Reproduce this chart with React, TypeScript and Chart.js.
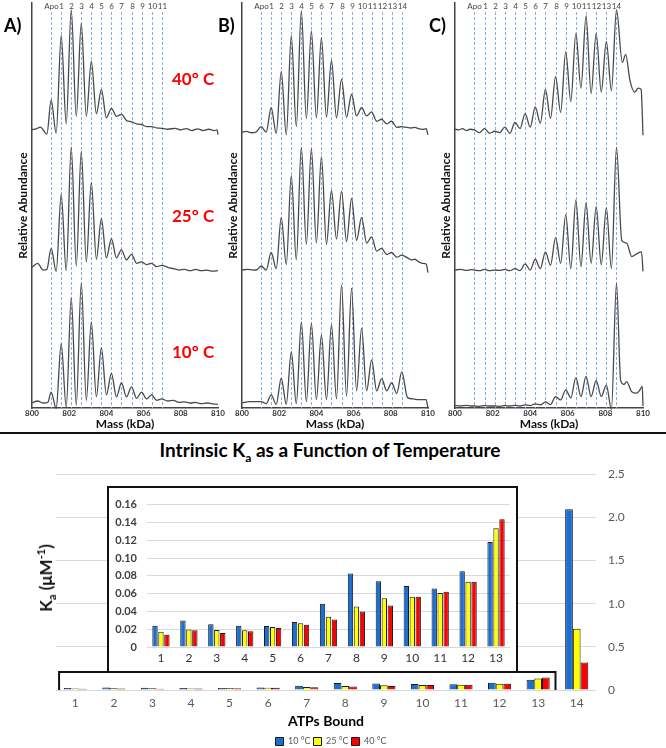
import React, { useEffect, useRef } from 'react';
import { Chart, registerables } from 'chart.js';

Chart.register(...registerables);

const FONT = 'Lato, "Liberation Sans", "DejaVu Sans", sans-serif';

// ---------- Bar chart data (intrinsic Ka, µM^-1) ----------
const atpLabels = ['1', '2', '3', '4', '5', '6', '7', '8', '9', '10', '11', '12', '13', '14'];
const tempLabels = ['10 °C', '25 °C', '40 °C'];
const ka10 = [0.0238, 0.0299, 0.0256, 0.0238, 0.0235, 0.028, 0.0487, 0.0825, 0.074, 0.0686, 0.0658, 0.085, 0.118, 2.095];
const ka25 = [0.017, 0.0196, 0.0192, 0.0188, 0.0224, 0.0267, 0.034, 0.0455, 0.0548, 0.0565, 0.0608, 0.0732, 0.1333, 0.71];
const ka40 = [0.0139, 0.0188, 0.0156, 0.0178, 0.0213, 0.0249, 0.031, 0.0398, 0.0466, 0.0565, 0.0622, 0.0732, 0.1436, 0.32];
const barColors = ['#1b6fd1', '#ffff00', '#ff0000'];

// ---------- Mass spectra ----------
const speciesLabels = ['Apo', '1', '2', '3', '4', '5', '6', '7', '8', '9', '10', '11', '12', '13', '14'];
const speciesMass = [801.03, 801.57, 802.11, 802.65, 803.19, 803.73, 804.27, 804.81, 805.35, 805.89, 806.43, 806.97, 807.51, 808.05, 808.59];
const panelTemps = ['40° C', '25° C', '10° C'];

// Panel A
const specA40 = {
  lead: [[800.0, 0.0], [800.25, 0.01], [800.45, 0.02], [800.8, -0.03]],
  peaks: [0.22, 0.7, 0.89, 0.79, 0.51, 0.3, 0.16, 0.115, 0.06, 0.04, 0.025, 0.012],
  valleys: [-0.025, 0.045, 0.1, 0.1, 0.12, 0.09, 0.1, 0.07, 0.045, 0.025, 0.015],
  tail: [[807.3, 0.005], [807.7, 0.012], [808.0, 0.0], [808.3, 0.01], [808.6, -0.005], [808.9, 0.008], [809.2, -0.005], [809.5, 0.005], [809.8, -0.005], [809.95, 0.0], [810.0, -0.035]],
};
const specA25 = {
  lead: [[800.0, 0.02], [800.3, 0.05], [800.6, 0.0], [800.8, 0.005]],
  peaks: [0.16, 0.56, 0.91, 0.88, 0.65, 0.38, 0.23, 0.15, 0.116, 0.06, 0.05, 0.035],
  valleys: [-0.01, -0.005, 0.03, 0.06, 0.08, 0.09, 0.09, 0.075, 0.05, 0.04, 0.025],
  tail: [[807.3, 0.02], [807.6, 0.01], [807.9, 0.0], [808.2, 0.005], [808.5, -0.005], [808.8, 0.005], [809.1, -0.005], [809.4, 0.0], [809.7, -0.008], [810.0, -0.005]],
};
const specA10 = {
  lead: [[800.0, 0.0], [800.3, 0.015], [800.6, 0.0], [800.85, 0.005]],
  peaks: [0.08, 0.44, 0.78, 0.89, 0.6, 0.41, 0.22, 0.15, 0.12, 0.08, 0.06, 0.03],
  valleys: [-0.04, -0.03, -0.015, 0.02, 0.045, 0.06, 0.045, 0.045, 0.035, 0.03, 0.02],
  tail: [[807.3, 0.015], [807.6, 0.02], [807.9, 0.005], [808.2, 0.008], [808.5, 0.0], [808.8, 0.004], [809.1, -0.004], [809.4, 0.0], [809.7, -0.006], [810.0, -0.01]],
};

// Panel B
const specB40 = {
  lead: [[800.0, 0.0], [800.25, 0.005], [800.5, -0.005], [800.75, 0.0]],
  peaks: [0.04, 0.18, 0.45, 0.715, 0.9, 0.75, 0.7, 0.53, 0.39, 0.28, 0.18, 0.15, 0.095, 0.08, 0.04],
  valleys: [0.0, -0.01, -0.02, 0.04, 0.1, 0.105, 0.11, 0.105, 0.11, 0.12, 0.12, 0.08, 0.06, 0.035],
  tail: [[808.85, 0.035], [809.1, 0.03], [809.3, 0.035], [809.5, 0.025], [809.7, 0.02], [809.9, 0.025], [810.0, -0.02]],
};
const specB25 = {
  lead: [[800.0, 0.0], [800.3, 0.005], [800.6, 0.0], [800.8, 0.002]],
  peaks: [0.03, 0.13, 0.39, 0.7, 0.91, 0.9, 0.84, 0.59, 0.585, 0.53, 0.39, 0.245, 0.16, 0.13, 0.11],
  valleys: [0.0, 0.01, 0.04, 0.075, 0.19, 0.2, 0.19, 0.23, 0.21, 0.22, 0.2, 0.14, 0.115, 0.095],
  tail: [[808.9, 0.09], [809.1, 0.075], [809.3, 0.08], [809.5, 0.06], [809.7, 0.05], [809.9, 0.045], [810.0, -0.02]],
};
const specB10 = {
  lead: [[800.0, 0.0], [800.4, 0.01], [800.8, 0.01]],
  peaks: [0.01, 0.06, 0.185, 0.38, 0.6, 0.59, 0.505, 0.58, 0.875, 0.85, 0.555, 0.32, 0.18, 0.15, 0.23],
  valleys: [-0.005, -0.01, -0.01, -0.005, 0.01, 0.025, 0.025, 0.03, 0.05, 0.09, 0.09, 0.09, 0.09, 0.07],
  tail: [[808.9, 0.04], [809.2, 0.03], [809.5, 0.025], [809.9, 0.025], [810.0, -0.04]],
};

// Panel C
const specC40 = {
  lead: [[800.0, 0.005], [800.2, 0.0], [800.4, 0.01], [800.6, -0.005], [800.8, 0.005]],
  peaks: [0.0, 0.01, -0.01, 0.02, 0.055, 0.12, 0.17, 0.3, 0.395, 0.58, 0.715, 0.845, 0.715, 0.655, 0.89],
  valleys: [-0.02, -0.025, -0.02, -0.025, 0.01, 0.02, 0.05, 0.085, 0.13, 0.21, 0.31, 0.27, 0.28, 0.29],
  tail: [[808.9, 0.5], [809.08, 0.56], [809.3, 0.37], [809.55, 0.28], [809.75, 0.31], [809.9, 0.3], [810.0, -0.04]],
};
const specC25 = {
  lead: [[800.0, 0.0], [800.3, 0.005], [800.6, -0.003], [800.85, 0.003]],
  peaks: [0.0, 0.005, 0.0, 0.005, 0.01, 0.045, 0.08, 0.135, 0.24, 0.41, 0.52, 0.5, 0.47, 0.46, 0.91],
  valleys: [-0.005, -0.005, -0.003, -0.005, -0.005, 0.0, 0.01, 0.035, 0.05, 0.01, 0.025, 0.05, 0.04, 0.01],
  tail: [[808.87, 0.22], [809.13, 0.2], [809.4, 0.1], [809.66, 0.12], [809.92, 0.135], [810.0, -0.01]],
};
const specC10 = {
  lead: [[800.0, 0.005], [800.3, 0.0], [800.6, 0.005], [800.85, 0.0]],
  peaks: [0.0, 0.003, 0.0, 0.003, 0.005, 0.008, 0.015, 0.03, 0.07, 0.12, 0.21, 0.22, 0.19, 0.155, 0.91],
  valleys: [-0.003, 0.0, -0.003, 0.0, 0.0, 0.003, 0.008, 0.01, 0.045, 0.06, 0.07, 0.07, 0.07, -0.025],
  tail: [[808.81, 0.19], [808.99, 0.16], [809.13, 0.18], [809.4, 0.105], [809.66, 0.095], [809.84, 0.12], [809.96, 0.145], [810.0, 0.0]],
};

// vertical stacking offsets of the three traces (40, 25, 10 °C) in each panel
const offsetsA = [2.06, 1.022, 0.037];
const offsetsB = [2.044, 1.022, 0.037];
const offsetsC = [2.06, 1.022, 0.015];

type Trace = { lead: number[][]; peaks: number[]; valleys: number[]; tail: number[][] };

function tracePoints(t: Trace, offset: number) {
  const pts: { x: number; y: number }[] = [];
  t.lead.forEach(([x, y]) => pts.push({ x, y: y + offset }));
  t.peaks.forEach((p, i) => {
    pts.push({ x: speciesMass[i], y: p + offset });
    if (i < t.valleys.length) {
      pts.push({ x: (speciesMass[i] + speciesMass[i + 1]) / 2, y: t.valleys[i] + offset });
    }
  });
  t.tail.forEach(([x, y]) => pts.push({ x, y: y + offset }));
  return pts;
}

const speciesPlugin = {
  id: 'species',
  beforeDatasetsDraw(chart: any, _args: any, opts: any) {
    const { ctx, chartArea, scales } = chart;
    const x = scales.x;
    ctx.save();
    for (let i = 0; i < opts.count; i++) {
      const px = Math.round(x.getPixelForValue(speciesMass[i])) + 0.5;
      ctx.strokeStyle = '#86aee0';
      ctx.lineWidth = 1;
      ctx.setLineDash([3, 2]);
      ctx.beginPath();
      ctx.moveTo(px, chartArea.top + 9);
      ctx.lineTo(px, chartArea.bottom);
      ctx.stroke();
      ctx.setLineDash([]);
      ctx.fillStyle = '#444';
      ctx.font = `8px ${FONT}`;
      ctx.textAlign = 'center';
      ctx.textBaseline = 'middle';
      ctx.fillText(speciesLabels[i], px, chartArea.top + 3);
    }
    ctx.restore();
  },
};

function SpectrumPanel({ left, width, traces, offsets, count }: any) {
  const ref = useRef<HTMLCanvasElement>(null);
  useEffect(() => {
    const chart = new Chart(ref.current as HTMLCanvasElement, {
      type: 'line',
      data: {
        datasets: traces.map((t: Trace, k: number) => ({
          data: tracePoints(t, offsets[k]),
          borderColor: '#4a4a4a',
          borderWidth: 1.3,
          pointRadius: 0,
          cubicInterpolationMode: 'monotone',
          fill: false,
          clip: false,
        })),
      },
      options: {
        animation: false,
        responsive: false,
        maintainAspectRatio: false,
        layout: { padding: { top: 3, right: 14, left: 0, bottom: 0 } },
        plugins: { legend: { display: false }, tooltip: { enabled: false }, species: { count } } as any,
        scales: {
          x: {
            type: 'linear',
            min: 800,
            max: 810,
            ticks: { stepSize: 2, font: { size: 8, weight: 'bold', family: FONT }, color: '#333', padding: 1, maxRotation: 0 },
            grid: { display: false, drawTicks: false },
            border: { display: true, color: '#444', width: 1.5 },
            title: { display: true, text: 'Mass (kDa)', color: '#111', font: { size: 12, weight: 'bold', family: FONT }, padding: { top: 0, bottom: 1 } },
            afterFit: (s: any) => { s.height = 24; },
          },
          y: {
            min: 0,
            max: 3,
            ticks: { display: false },
            grid: { display: false, drawTicks: false },
            border: { display: true, color: '#444', width: 1.5 },
            title: { display: true, text: 'Relative Abundance', color: '#111', font: { size: 12, weight: 'bold', family: FONT }, padding: { top: 16, bottom: 0 } },
            afterFit: (s: any) => { s.width = 32; },
          },
        },
      } as any,
      plugins: [speciesPlugin],
    });
    return () => chart.destroy();
  }, []);
  return (
    <canvas ref={ref} width={width} height={432} style={{ position: 'absolute', left, top: 0, width, height: 432 }} />
  );
}

const bracketPlugin = {
  id: 'bracket',
  afterDatasetsDraw(chart: any) {
    const { ctx, scales } = chart;
    const x = scales.x;
    const y = scales.y;
    const cw = x.getPixelForValue(1) - x.getPixelForValue(0);
    const l = x.getPixelForValue(0) - cw * 0.42;
    const r = x.getPixelForValue(12) + cw * 0.45;
    const yb = y.getPixelForValue(0);
    const yt = yb - 18;
    ctx.save();
    ctx.strokeStyle = '#111';
    ctx.lineWidth = 2;
    ctx.beginPath();
    ctx.moveTo(l, yb);
    ctx.lineTo(l, yt);
    ctx.lineTo(r, yt);
    ctx.lineTo(r, yb);
    ctx.stroke();
    ctx.restore();
  },
};

function barDatasets(n: number) {
  return [ka10, ka25, ka40].map((arr, i) => ({
    label: tempLabels[i],
    data: arr.slice(0, n),
    backgroundColor: barColors[i],
    borderColor: '#1a1a1a',
    borderWidth: 1,
  }));
}

function MainChart() {
  const ref = useRef<HTMLCanvasElement>(null);
  useEffect(() => {
    const chart = new Chart(ref.current as HTMLCanvasElement, {
      type: 'bar',
      data: { labels: atpLabels, datasets: barDatasets(14) },
      options: {
        animation: false,
        responsive: false,
        maintainAspectRatio: false,
        layout: { padding: { left: 0, top: 11.5, right: 4, bottom: 0 } },
        datasets: { bar: { categoryPercentage: 0.6, barPercentage: 1 } },
        plugins: {
          legend: {
            position: 'bottom',
            maxHeight: 14,
            labels: { boxWidth: 8, boxHeight: 8, padding: 3, font: { size: 9, family: FONT }, color: '#595959' },
          },
          tooltip: { enabled: false },
        },
        scales: {
          x: {
            grid: { display: false, drawTicks: false },
            border: { display: false },
            ticks: { color: '#595959', font: { size: 12, family: FONT }, padding: 6 },
            title: { display: true, text: 'ATPs Bound', color: '#000', font: { size: 14, weight: 'bold', family: FONT }, padding: { top: 0, bottom: 4 } },
            afterFit: (s: any) => { s.height = 44; },
          },
          y: {
            position: 'right',
            min: 0,
            max: 2.5,
            ticks: { stepSize: 0.5, color: '#595959', font: { size: 12, family: FONT }, padding: 12 },
            grid: { color: '#d9d9d9', drawTicks: false },
            border: { display: false },
            afterFit: (s: any) => { s.width = 66; },
          },
          yl: {
            position: 'left',
            type: 'linear',
            ticks: { display: false },
            grid: { display: false, drawTicks: false },
            border: { display: false },
            afterFit: (s: any) => { s.width = 56; },
          },
        },
      } as any,
      plugins: [bracketPlugin],
    });
    return () => chart.destroy();
  }, []);
  return <canvas ref={ref} width={666} height={293} style={{ position: 'absolute', left: 0, top: 455, width: 666, height: 293 }} />;
}

function InsetChart() {
  const ref = useRef<HTMLCanvasElement>(null);
  useEffect(() => {
    const chart = new Chart(ref.current as HTMLCanvasElement, {
      type: 'bar',
      data: { labels: atpLabels.slice(0, 13), datasets: barDatasets(13) },
      options: {
        animation: false,
        responsive: false,
        maintainAspectRatio: false,
        layout: { padding: { top: 9, right: 6, left: 0, bottom: 0 } },
        datasets: { bar: { categoryPercentage: 0.64, barPercentage: 0.9 } },
        plugins: { legend: { display: false }, tooltip: { enabled: false } },
        scales: {
          x: {
            grid: { display: false, drawTicks: false },
            border: { display: false },
            ticks: { color: '#333', font: { size: 12, family: FONT }, padding: 4 },
            afterFit: (s: any) => { s.height = 24; },
          },
          y: {
            min: 0,
            max: 0.16,
            ticks: { stepSize: 0.02, color: '#404040', font: { size: 11, weight: 'bold', family: FONT }, padding: 10 },
            grid: { color: '#d9d9d9', drawTicks: false },
            border: { display: false },
            afterFit: (s: any) => { s.width = 38; },
          },
        },
      } as any,
    });
    return () => chart.destroy();
  }, []);
  return <canvas ref={ref} width={407} height={183} style={{ display: 'block', width: 407, height: 183 }} />;
}

const redLabel = (top: number): React.CSSProperties => ({
  position: 'absolute', left: 172, top, color: '#ff0000', fontFamily: FONT, fontWeight: 'bold', fontSize: 17, lineHeight: '20px', whiteSpace: 'nowrap',
});
const letter = (left: number): React.CSSProperties => ({
  position: 'absolute', left, top: 14, color: '#000', fontFamily: FONT, fontWeight: 'bold', fontSize: 18, lineHeight: '22px',
});

export default function App() {
  return (
    <div style={{ position: 'absolute', left: 0, top: 0, width: 666, height: 748, overflow: 'hidden', background: '#fff' }}>
      <SpectrumPanel left={0} width={232} traces={[specA40, specA25, specA10]} offsets={offsetsA} count={12} />
      <SpectrumPanel left={210} width={232} traces={[specB40, specB25, specB10]} offsets={offsetsB} count={15} />
      <SpectrumPanel left={423} width={234} traces={[specC40, specC25, specC10]} offsets={offsetsC} count={15} />
      <div style={letter(4)}>A)</div>
      <div style={letter(218)}>B)</div>
      <div style={letter(429)}>C)</div>
      <div style={redLabel(69)}>{panelTemps[0]}</div>
      <div style={redLabel(206)}>{panelTemps[1]}</div>
      <div style={redLabel(342)}>{panelTemps[2]}</div>
      <div style={{ position: 'absolute', left: 0, top: 432, width: 666, height: 2, background: '#111' }} />
      <div style={{ position: 'absolute', left: 0, top: 438, width: 660, textAlign: 'center', fontFamily: FONT, fontWeight: 'bold', fontSize: 19, lineHeight: '24px', color: '#000' }}>
        Intrinsic K<sub style={{ fontSize: 12, lineHeight: 0 }}>a</sub> as a Function of Temperature
      </div>
      <MainChart />
      <div style={{ position: 'absolute', left: 107, top: 486, width: 411, height: 185, boxSizing: 'border-box', borderTop: '2px solid #111', borderLeft: '2px solid #111', borderRight: '2px solid #111', background: '#fff' }}>
        <InsetChart />
      </div>
      <div style={{ position: 'absolute', left: 46, top: 578, transform: 'translate(-50%, -50%) rotate(-90deg)', whiteSpace: 'nowrap', fontFamily: FONT, fontWeight: 'bold', fontSize: 17, lineHeight: '20px', color: '#111' }}>
        K<sub style={{ fontSize: 11, lineHeight: 0 }}>a</sub> (μM<sup style={{ fontSize: 11, lineHeight: 0 }}>-1</sup>)
      </div>
    </div>
  );
}
